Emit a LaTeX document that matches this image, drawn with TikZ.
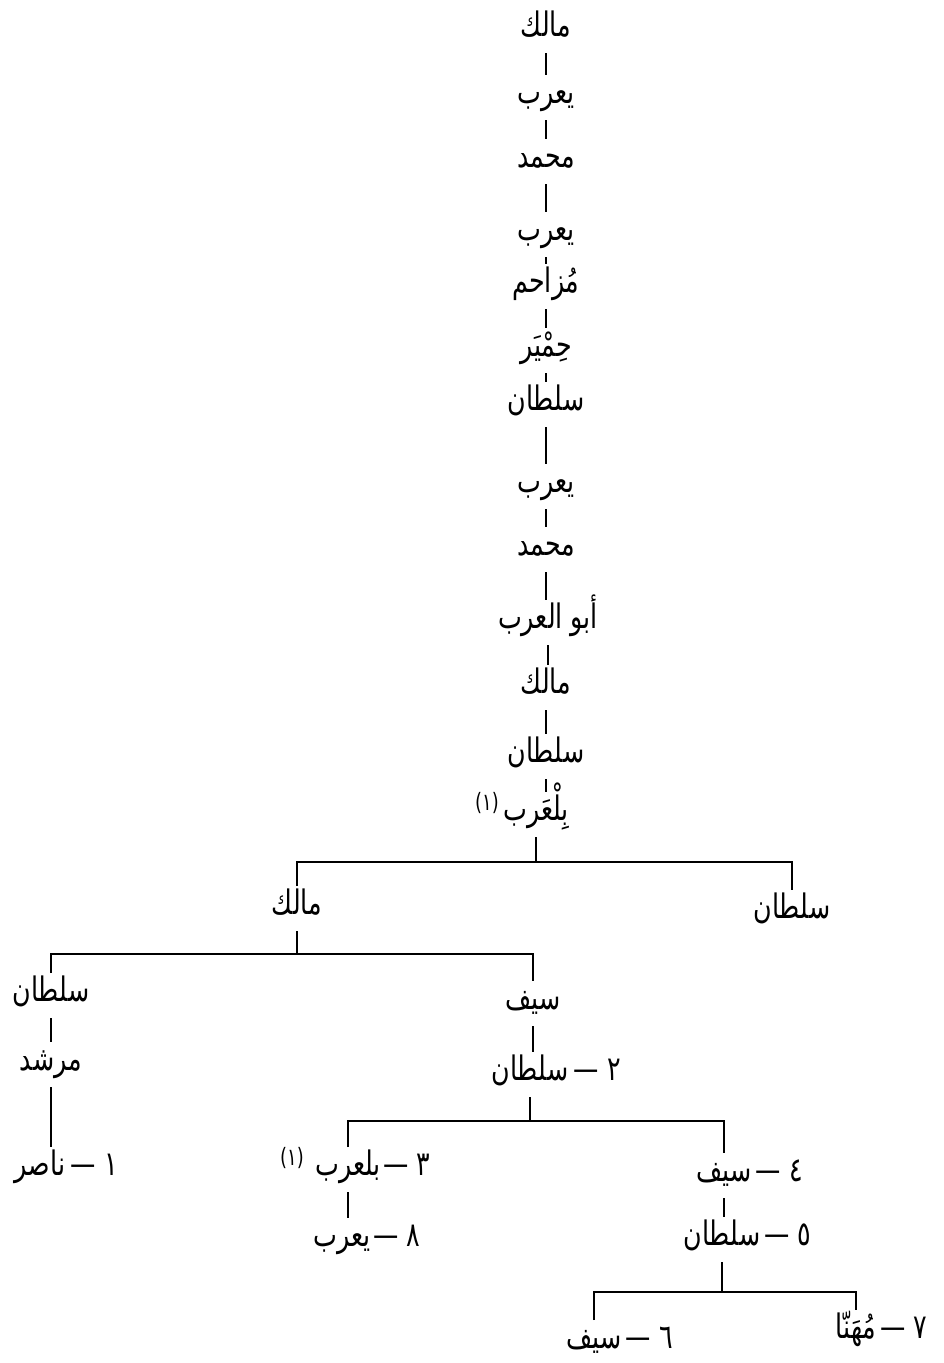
\documentclass[tikz,border=0pt]{standalone}
\usepackage{fontspec}
\usepackage{tikz}
\newfontfamily\arabicfont[Script=Arabic, FakeStretch=0.75]{DejaVu Sans}
\TeXXeTstate=1

\begin{document}
\begin{tikzpicture}[
    x=0.025cm, y=-0.025cm,
    person/.style={font=\arabicfont\fontsize{24}{28}\selectfont, inner sep=0pt, outer sep=0pt, text height=0.7cm, text depth=0.425cm, anchor=base},
    num/.style={font=\arabicfont\fontsize{24}{28}\selectfont, inner sep=0pt, outer sep=0pt, text height=0.7cm, text depth=0.425cm},
    note/.style={font=\arabicfont\fontsize{17}{19}\selectfont, inner sep=0pt, yshift=0.3cm},
    link/.style={line width=1pt},
]
    \useasboundingbox (0,0) rectangle (944,1363);

    % Main line
    \node[person] (m1) at (546,36) {\beginR مالك\endR};
    \node[person] (y1) at (546,103) {\beginR يعرب\endR};
    \node[person] (mu1) at (546,167) {\beginR محمد\endR};
    \node[person] (y2) at (546,240) {\beginR يعرب\endR};
    \node[person] (muz) at (546,292) {\beginR مُزاحم\endR};
    \node[person] (him) at (546,356) {\beginR حِمْيَر\endR};
    \node[person] (s1) at (546,410) {\beginR سلطان\endR};
    \node[person] (y3) at (546,492) {\beginR يعرب\endR};
    \node[person] (mu2) at (546,555) {\beginR محمد\endR};
    \node[person] (abu) at (548,628) {\beginR أبو العرب\endR};
    \node[person] (m2) at (546,693) {\beginR مالك\endR};
    \node[person] (s2) at (546,762) {\beginR سلطان\endR};
    \node[person, label={[note, label distance=3pt]left:{\beginR(١)\endR}}] (bal) at (536,820) {\beginR بِلْعَرب\endR};

    \draw[link] (m1) -- (m1 |- y1.north);
    \draw[link] (y1) -- (y1 |- mu1.north);
    \draw[link] (mu1) -- (mu1 |- y2.north);
    \draw[link] (y2) -- (y2 |- muz.north);
    \draw[link] (muz) -- (muz |- him.north);
    \draw[link] (him) -- (him |- s1.north);
    \draw[link] (s1) -- (s1 |- y3.north);
    \draw[link] (y3) -- (y3 |- mu2.north);
    \draw[link] (mu2) -- (mu2 |- abu.north);
    \draw[link] (abu) -- (abu |- m2.north);
    \draw[link] (m2) -- (m2 |- s2.north);
    \draw[link] (s2) -- (s2 |- bal.north);

    % Sons of Bilarab
    \node[person] (m3) at (297,914) {\beginR مالك\endR};
    \node[person] (s3) at (792,918) {\beginR سلطان\endR};
    \coordinate (b1) at (536,862);
    \draw[link] (bal) -- (b1);
    \draw[link] (m3) |- (b1) -| (s3);

    % Sons of Malik
    \node[person] (s4) at (51,1001) {\beginR سلطان\endR};
    \node[person] (sf1) at (533,1009) {\beginR سيف\endR};
    \node[person] (mur) at (51,1070) {\beginR مرشد\endR};
    \node[person, label={[num, label distance=4pt]right:{\beginR ١ —\endR}}] (nas) at (40,1175) {\beginR ناصر\endR};
    \node[person, label={[num, label distance=4pt]right:{\beginR ٢ —\endR}}] (s5) at (530,1080) {\beginR سلطان\endR};
    \coordinate (b2) at (297,954);
    \draw[link] (m3) -- (b2);
    \draw[link] (s4) |- (b2) -| (sf1);
    \draw[link] (s4) -- (s4 |- mur.north);
    \draw[link] (mur) -- (mur |- nas.north);
    \draw[link] (sf1) -- (sf1 |- s5.north);

    % Sons of Sultan
    \node[person, label={[num, label distance=2pt]right:{\beginR ٣ —\endR}}, label={[note, label distance=8pt]left:{\beginR(١)\endR}}] (bal2) at (348,1175) {\beginR بلعرب\endR};
    \node[person, label={[num, label distance=2pt]right:{\beginR ٨ —\endR}}] (y4) at (342,1246) {\beginR يعرب\endR};
    \node[person, label={[num, label distance=3pt]right:{\beginR ٤ —\endR}}] (sf2) at (724,1181) {\beginR سيف\endR};
    \node[person, label={[num, label distance=3pt]right:{\beginR ٥ —\endR}}] (s6) at (722,1245) {\beginR سلطان\endR};
    \coordinate (b3) at (530,1121);
    \draw[link] (s5) -- (b3);
    \draw[link] (bal2) |- (b3) -| (sf2);
    \draw[link] (bal2) -- (bal2 |- y4.north);
    \draw[link] (sf2) -- (sf2 |- s6.north);

    % Sons of Sultan (5)
    \node[person, label={[num, label distance=3pt]right:{\beginR ٦ —\endR}}] (sf3) at (594,1348) {\beginR سيف\endR};
    \node[person, label={[num, label distance=3pt]right:{\beginR ٧ —\endR}}] (mh) at (856,1338) {\beginR مُهَنّا\endR};
    \coordinate (b4) at (722,1292);
    \draw[link] (s6) -- (b4);
    \draw[link] (sf3) |- (b4) -| (mh);
\end{tikzpicture}
\end{document}
